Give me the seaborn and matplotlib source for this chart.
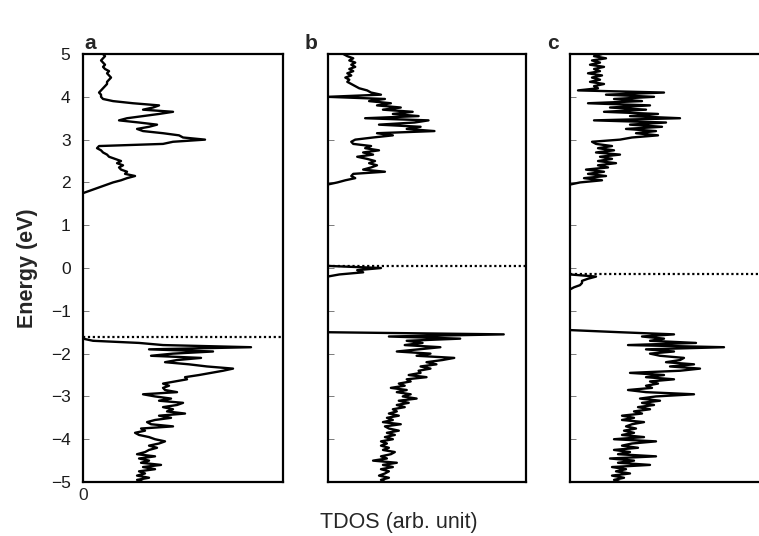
import numpy as np
import pandas as pd
import matplotlib.pyplot as plt
import seaborn as sns

# TDOS, in units of panel width; one value every 0.05 eV
# panel a
a_cb_edges = (1.75, 5.00)
a_cb = [0.00, 0.03, 0.06, 0.09, 0.12, 0.15, 0.19, 0.22, 0.26, 0.21,
        0.22, 0.19, 0.18, 0.20, 0.17, 0.19, 0.16, 0.13, 0.12, 0.10,
        0.09, 0.07, 0.08, 0.40, 0.45, 0.61, 0.50, 0.48, 0.40, 0.30,
        0.27, 0.33, 0.37, 0.28, 0.18, 0.22, 0.30, 0.38, 0.45, 0.30,
        0.35, 0.38, 0.25, 0.15, 0.10, 0.09, 0.09, 0.08, 0.09, 0.10,
        0.11, 0.12, 0.12, 0.13, 0.14, 0.13, 0.12, 0.13, 0.11, 0.10,
        0.11, 0.10, 0.09, 0.10, 0.11, 0.10]
a_vb_edges = (-5.00, -1.65)
a_vb = [0.30, 0.27, 0.33, 0.27, 0.31, 0.28, 0.36, 0.30, 0.39, 0.29,
        0.33, 0.28, 0.36, 0.27, 0.31, 0.33, 0.37, 0.33, 0.38, 0.41,
        0.36, 0.33, 0.28, 0.26, 0.31, 0.29, 0.45, 0.34, 0.32, 0.36,
        0.44, 0.38, 0.51, 0.42, 0.45, 0.40, 0.47, 0.50, 0.38, 0.44,
        0.36, 0.30, 0.47, 0.41, 0.40, 0.43, 0.40, 0.46, 0.52, 0.51,
        0.58, 0.64, 0.70, 0.75, 0.62, 0.53, 0.41, 0.47, 0.59, 0.34,
        0.45, 0.65, 0.33, 0.84, 0.40, 0.28, 0.05, 0.00]
a_fermi = -1.60

# panel b
b_cb_edges = (1.95, 5.00)
b_cb = [0.00, 0.05, 0.09, 0.14, 0.12, 0.13, 0.29, 0.18, 0.22, 0.25,
        0.21, 0.24, 0.20, 0.15, 0.23, 0.18, 0.26, 0.19, 0.22, 0.13,
        0.12, 0.14, 0.23, 0.33, 0.25, 0.54, 0.40, 0.47, 0.26, 0.44,
        0.51, 0.19, 0.46, 0.33, 0.43, 0.28, 0.37, 0.25, 0.32, 0.21,
        0.29, 0.00, 0.27, 0.22, 0.20, 0.16, 0.14, 0.12, 0.10, 0.11,
        0.09, 0.12, 0.10, 0.13, 0.11, 0.14, 0.12, 0.14, 0.11, 0.13,
        0.10, 0.08]
b_gap_edges = (-0.20, 0.05)
b_gap = [0.00, 0.06, 0.18, 0.15, 0.27, 0.00]
b_vb_edges = (-5.00, -1.50)
b_vb = [0.29, 0.27, 0.31, 0.26, 0.29, 0.31, 0.27, 0.33, 0.28, 0.35,
        0.23, 0.30, 0.27, 0.32, 0.34, 0.28, 0.31, 0.27, 0.30, 0.27,
        0.33, 0.29, 0.34, 0.30, 0.36, 0.31, 0.29, 0.37, 0.28, 0.33,
        0.30, 0.36, 0.31, 0.35, 0.33, 0.39, 0.35, 0.41, 0.36, 0.45,
        0.38, 0.42, 0.35, 0.40, 0.32, 0.39, 0.36, 0.42, 0.40, 0.50,
        0.41, 0.47, 0.46, 0.52, 0.47, 0.55, 0.50, 0.58, 0.64, 0.45,
        0.52, 0.35, 0.46, 0.57, 0.39, 0.48, 0.40, 0.67, 0.31, 0.89,
        0.00]
b_fermi = 0.05

# panel c
c_cb_edges = (1.95, 5.00)
c_cb = [0.00, 0.05, 0.16, 0.07, 0.18, 0.09, 0.17, 0.08, 0.19, 0.14,
        0.23, 0.14, 0.21, 0.15, 0.25, 0.13, 0.22, 0.14, 0.21, 0.13,
        0.11, 0.25, 0.31, 0.44, 0.33, 0.43, 0.28, 0.46, 0.30, 0.48,
        0.12, 0.55, 0.30, 0.44, 0.17, 0.38, 0.20, 0.40, 0.09, 0.36,
        0.22, 0.42, 0.18, 0.47, 0.04, 0.14, 0.12, 0.17, 0.10, 0.15,
        0.11, 0.16, 0.09, 0.15, 0.12, 0.17, 0.10, 0.15, 0.11, 0.18,
        0.12, 0.16]
c_gap_edges = (-0.50, -0.15)
c_gap = [0.00, 0.02, 0.05, 0.06, 0.06, 0.09, 0.13, 0.00]
c_vb_edges = (-5.00, -1.45)
c_vb = [0.25, 0.22, 0.27, 0.21, 0.30, 0.23, 0.28, 0.21, 0.40, 0.24,
        0.32, 0.20, 0.43, 0.24, 0.30, 0.22, 0.34, 0.26, 0.31, 0.43,
        0.22, 0.37, 0.26, 0.32, 0.27, 0.33, 0.28, 0.31, 0.37, 0.26,
        0.32, 0.26, 0.36, 0.32, 0.40, 0.34, 0.42, 0.36, 0.45, 0.35,
        0.43, 0.62, 0.38, 0.29, 0.41, 0.38, 0.44, 0.40, 0.52, 0.38,
        0.47, 0.30, 0.55, 0.65, 0.50, 0.62, 0.48, 0.55, 0.57, 0.45,
        0.40, 0.52, 0.38, 0.77, 0.29, 0.63, 0.40, 0.47, 0.36, 0.52,
        0.25, 0.00]
c_fermi = -0.15

panel_labels = ['a', 'b', 'c']
energy_ticks = [-5, -4, -3, -2, -1, 0, 1, 2, 3, 4, 5]

panels = [
    [(a_cb_edges, a_cb), (a_vb_edges, a_vb)],
    [(b_cb_edges, b_cb), (b_gap_edges, b_gap), (b_vb_edges, b_vb)],
    [(c_cb_edges, c_cb), (c_gap_edges, c_gap), (c_vb_edges, c_vb)],
]
fermi = [a_fermi, b_fermi, c_fermi]

sns.set_style("ticks")
plt.rcParams['font.family'] = ['Liberation Sans', 'DejaVu Sans']

fig = plt.figure(figsize=(7.59, 5.36), dpi=100)
# axes boxes in figure fractions (left, bottom, width, height)
boxes = [(0.1094, 0.1007, 0.2635, 0.7985),
         (0.4315, 0.1007, 0.2609, 0.7985),
         (0.7510, 0.1007, 0.2635, 0.7985)]

for i, box in enumerate(boxes):
    ax = fig.add_axes(box)
    for (lo, hi), vals in panels[i]:
        df = pd.DataFrame({'dos': vals, 'energy': np.linspace(lo, hi, len(vals))})
        sns.lineplot(data=df, x='dos', y='energy', orient='y', estimator=None,
                     color='black', lw=1.7, ax=ax)
    ax.axhline(fermi[i], color='black', lw=1.6, ls=(0, (1, 1.2)))
    ax.set_xlim(0, 1)
    ax.set_ylim(-5, 5)
    ax.set_yticks(energy_ticks)
    ax.tick_params(axis='y', direction='in', length=4, width=0.6, color='0.4',
                   labelsize=12.5, pad=9, labelcolor='0.1')
    ax.set_xlabel('')
    ax.set_ylabel('')
    if i == 0:
        ax.set_xticks([0])
        ax.set_xticklabels(['0'])
        ax.tick_params(axis='x', length=0, labelsize=12.5, pad=4)
        ax.set_yticklabels([str(t).replace('-', '\u2212') for t in energy_ticks])
    else:
        ax.set_xticks([])
        ax.set_yticklabels([])
    for s in ax.spines.values():
        s.set_visible(True)
        s.set_linewidth(1.6)
        s.set_color('black')
    ax.text(box[0] + 0.01 if i == 0 else box[0] - 0.022, 0.902, panel_labels[i],
            transform=fig.transFigure, fontsize=15, fontweight='bold',
            ha='center', va='bottom')

fig.text(0.036, 0.50, 'Energy (eV)', rotation=90, fontsize=15.5,
         fontweight='bold', ha='center', va='center')
fig.text(0.525, 0.025, 'TDOS (arb. unit)', fontsize=15.5, ha='center',
         va='center')

fig.savefig('out.png', dpi=100)
